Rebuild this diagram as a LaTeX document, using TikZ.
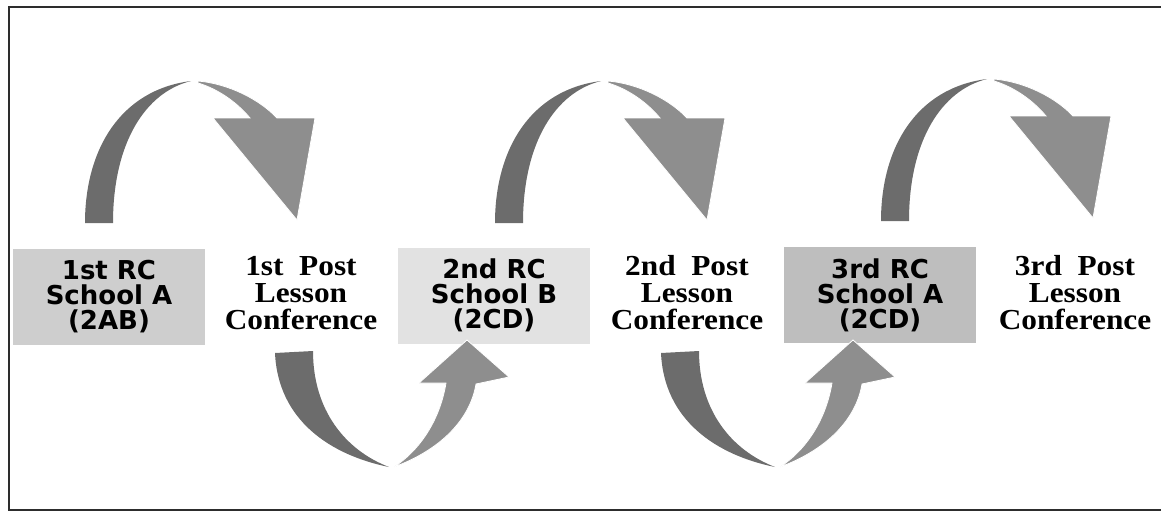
\documentclass[tikz,border=0pt]{standalone}
\usepackage{fontspec}
\newfontfamily\rcfont{DejaVu Sans}
\newfontfamily\postfont[FakeStretch=1.08, WordSpace=2]{Liberation Serif}

\tikzset{every picture/.style={line width=0.75pt}}
\tikzset{
  rcbox/.style={draw=none, minimum width=192, minimum height=96, inner sep=0.75pt, align=center, font=\rcfont\bfseries\fontsize{26}{25}\selectfont},
  posttext/.style={inner sep=0.75pt, align=center, font=\postfont\bfseries\fontsize{29}{27}\selectfont},
  darkpart/.style={fill={rgb, 255:red, 108; green, 108; blue, 108}, draw=none},
  lightpart/.style={fill={rgb, 255:red, 142; green, 142; blue, 142}, draw=white, line width=0.8},
}

\begin{document}
\begin{tikzpicture}[x=1pt,y=1pt,yscale=-1,xscale=1]
\useasboundingbox (0,0) rectangle (1161,512);

%Frame (right side lies outside the picture)
\draw [color={rgb, 255:red, 45; green, 45; blue, 45 }, line width=1.6] (1175,7) -- (9,7) -- (9,510) -- (1175,510) ;

% Text Node
\node [rcbox, fill={rgb, 255:red, 206; green, 206; blue, 206 }] (rc1) at (109,296.5) {1st RC\\School A\\(2AB)};
% Text Node
\node [posttext] (post1) at (301,293) {1st Post\\Lesson\\Conference};
% Text Node
\node [rcbox, fill={rgb, 255:red, 226; green, 226; blue, 226 }] (rc2) at (494,295.5) {2nd RC\\School B\\(2CD)};
% Text Node
\node [posttext] (post2) at (687,293) {2nd Post\\Lesson\\Conference};
% Text Node
\node [rcbox, fill={rgb, 255:red, 190; green, 190; blue, 190 }] (rc3) at (880,295) {3rd RC\\School A\\(2CD)};
% Text Node
\node [posttext] (post3) at (1075,293) {3rd Post\\Lesson\\Conference};

%Curve Arrow (top, rc1 to post1)
\draw [darkpart] (85,223) .. controls (85,150) and (120,90) .. (191,81) .. controls (146,92) and (113,142) .. (113,223) -- cycle ;
\draw [lightpart] (198,81) .. controls (230,84) and (260,100) .. (277,118) -- (315,118) -- (297,220) -- (213,118) -- (250,118) .. controls (235,100) and (215,88) .. (198,83) -- cycle ;
%Curve Arrow (top, rc2 to post2)
\draw [darkpart, shift={(410,0)}] (85,223) .. controls (85,150) and (120,90) .. (191,81) .. controls (146,92) and (113,142) .. (113,223) -- cycle ;
\draw [lightpart, shift={(410,0)}] (198,81) .. controls (230,84) and (260,100) .. (277,118) -- (315,118) -- (297,220) -- (213,118) -- (250,118) .. controls (235,100) and (215,88) .. (198,83) -- cycle ;
%Curve Arrow (top, rc3 to post3)
\draw [darkpart, shift={(796,-2)}] (85,223) .. controls (85,150) and (120,90) .. (191,81) .. controls (146,92) and (113,142) .. (113,223) -- cycle ;
\draw [lightpart, shift={(796,-2)}] (198,81) .. controls (230,84) and (260,100) .. (277,118) -- (315,118) -- (297,220) -- (213,118) -- (250,118) .. controls (235,100) and (215,88) .. (198,83) -- cycle ;

%Curve Arrow (bottom, post1 to rc2)
\draw [darkpart] (275,353) -- (313,351) .. controls (313,410) and (345,450) .. (389,467) .. controls (330,455) and (278,420) .. (275,353) -- cycle ;
\draw [lightpart] (394,467) .. controls (440,450) and (470,420) .. (476,384) -- (509,377) -- (467,340) -- (419,383) -- (446,383) .. controls (440,420) and (420,450) .. (394,467) -- cycle ;
%Curve Arrow (bottom, post2 to rc3)
\draw [darkpart, shift={(386,0)}] (275,353) -- (313,351) .. controls (313,410) and (345,450) .. (389,467) .. controls (330,455) and (278,420) .. (275,353) -- cycle ;
\draw [lightpart, shift={(386,0)}] (394,467) .. controls (440,450) and (470,420) .. (476,384) -- (509,377) -- (467,340) -- (419,383) -- (446,383) .. controls (440,420) and (420,450) .. (394,467) -- cycle ;

\end{tikzpicture}
\end{document}
